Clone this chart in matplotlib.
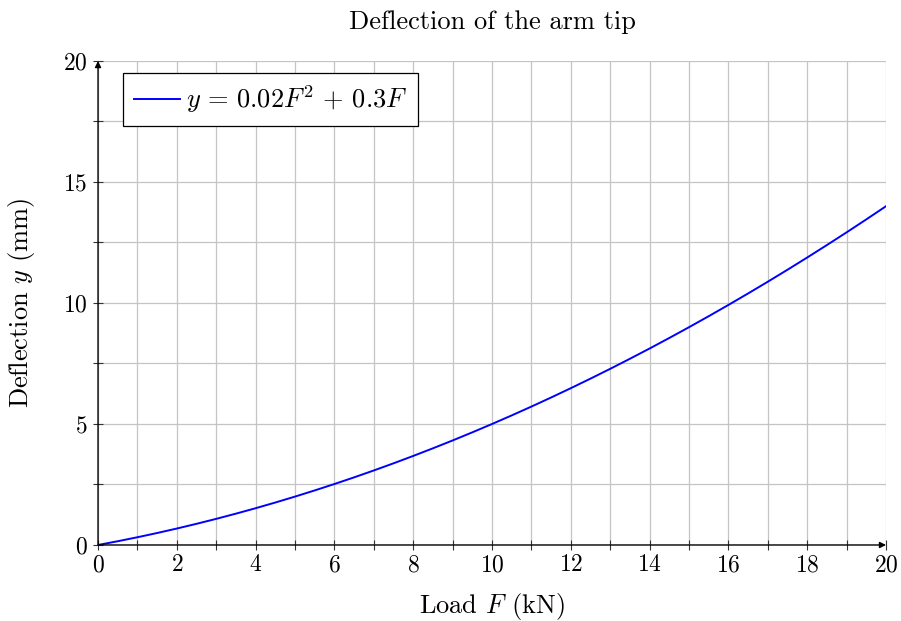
import numpy as np
import matplotlib.pyplot as plt
from matplotlib.ticker import MultipleLocator

plt.rcParams.update({
    "font.family": "serif",
    "font.serif": ["cmr10"],
    "mathtext.fontset": "cm",
    "axes.formatter.use_mathtext": True,
    "axes.unicode_minus": False,
    "font.size": 17,
})

# tip deflection model: y = A*F^2 + B*F  (F in kN, y in mm)
coef_a = 0.02
coef_b = 0.3
load_range = (0, 20)
deflection_range = (0, 20)

load = np.linspace(load_range[0], load_range[1], 201)
deflection = coef_a * load ** 2 + coef_b * load

fig = plt.figure(figsize=(9.01, 6.21), dpi=100)
ax = fig.add_axes([0.1088, 0.1224, 0.8746, 0.7794])

ax.plot(load, deflection, color="#0000ff", lw=1.4,
        label=r"$y\,=\,0.02F^2\,+\,0.3F$", zorder=3)

ax.set_xlim(*load_range)
ax.set_ylim(*deflection_range)
ax.xaxis.set_major_locator(MultipleLocator(2))
ax.xaxis.set_minor_locator(MultipleLocator(1))
ax.yaxis.set_major_locator(MultipleLocator(5))
ax.yaxis.set_minor_locator(MultipleLocator(2.5))
ax.grid(which="both", color="#c4c4c4", lw=0.9)
ax.set_axisbelow(True)

for side in ("top", "right", "left", "bottom"):
    ax.spines[side].set_visible(False)
ax.tick_params(which="both", direction="inout", length=7, width=0.8,
               color="#333333", top=False, right=False, pad=4)
ax.tick_params(axis="x", pad=3)

# axis lines with arrow heads
arrow = dict(arrowstyle="-|>", color="black", lw=1.0,
             mutation_scale=9, shrinkA=0, shrinkB=0)
ax.annotate("", xy=(load_range[1], 0), xytext=(load_range[0], 0),
            arrowprops=arrow, annotation_clip=False, zorder=4)
ax.annotate("", xy=(0, deflection_range[1]), xytext=(0, deflection_range[0]),
            arrowprops=arrow, annotation_clip=False, zorder=4)

x_mid = 0.5 * (0.1088 + 0.9834)
fig.text(x_mid, 1 - 22 / 621, "Deflection of the arm tip",
         fontsize=19, ha="center", va="center")
fig.text(x_mid, 1 - 606 / 621, r"Load $F$ (kN)",
         fontsize=19, ha="center", va="center")
fig.text(22 / 901, 1 - (545 + 61) / 2 / 621, r"Deflection $y$ (mm)",
         fontsize=19, ha="center", va="center", rotation=90)

leg = ax.legend(loc="upper left", bbox_to_anchor=(0.0317, 0.975),
                borderaxespad=0, fancybox=False, framealpha=1,
                edgecolor="black", borderpad=0.4, fontsize=19,
                handlelength=1.75, handletextpad=0.25)
leg.get_frame().set_linewidth(0.9)

fig.savefig("out.png", dpi=100)
